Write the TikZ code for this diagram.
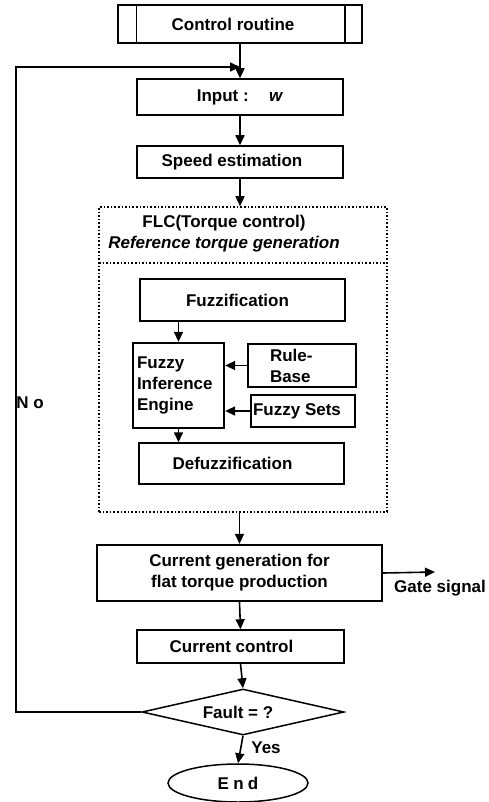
\documentclass[tikz,border=0pt]{standalone}
\usepackage{fontspec}
\setmainfont{Liberation Sans}
\usetikzlibrary{shapes.geometric,arrows.meta,calc}
\begin{document}
\begin{tikzpicture}[x=1pt,y=-1pt,
  every node/.style={font=\fontsize{17}{21}\selectfont\bfseries},
  box/.style={draw,line width=1.5pt,inner sep=2pt,align=center},
  thickbox/.style={box,line width=2.3pt},
  arr/.style={line width=1.6pt,-{Triangle[length=10pt,width=9pt]}},
  ln/.style={line width=1.5pt}]
\useasboundingbox (0,0) rectangle (489,802);
% nodes
\node[box,minimum width=244,minimum height=38] (cr) at (240,24) {Control routine\hspace*{14pt}};
\node[box,minimum width=206,minimum height=36] (in) at (240,97) {Input :\hspace{1.2em}\textit{w}};
\node[box,minimum width=206,minimum height=32] (sp) at (240,162) {Speed estimation\hspace*{16pt}};
\node[draw,dotted,line width=1.6pt,minimum width=288,minimum height=305,inner sep=0] (flc) at (243,359.5) {};
\node[align=center,inner sep=0] (flct) at (224,234) {FLC(Torque control)\\\textit{Reference torque generation}};
\node[box,minimum width=205,minimum height=42] (fz) at (242.5,300) {Fuzzification\hspace*{10pt}};
\node[thickbox,align=left,text width=83,inner sep=4pt,minimum height=85] (fie) at (178.5,385.5) {Fuzzy\\Inference\\Engine};
\node[thickbox,align=left,text width=64,inner xsep=22pt,inner ysep=2pt,minimum height=43] (rb) at (302,365.5) {Rule-\\Base};
\node[box,minimum width=104,minimum height=32] (fs) at (303,411) {Fuzzy Sets\hspace*{12pt}};
\node[box,minimum width=205,minimum height=41] (dfz) at (241.5,463.5) {Defuzzification\hspace*{18pt}};
\node[thickbox,minimum width=285,minimum height=56] (cg) at (239.5,573) {Current generation for\\flat torque production};
\node[box,minimum width=207,minimum height=33] (cc) at (240.5,646.5) {Current control\hspace*{18pt}};
\node[draw,diamond,line width=1.5pt,aspect=4.4,inner sep=1pt,minimum width=202,minimum height=46] (dia) at (243,712) {Fault = ?\hspace*{10pt}};
\node[draw,ellipse,line width=1.5pt,minimum width=140,minimum height=38,inner sep=0] (end) at (238,783) {\addfontfeatures{LetterSpace=25}End};
\node (no) at (30,403) {N o};
\node (yes) at (266,748) {Yes};
\node (gs) at (440,588) {Gate signal};
% inner lines of predefined process
\draw[ln] ([xshift=19pt]cr.north west) -- ([xshift=19pt]cr.south west);
\draw[ln] ([xshift=-18pt]cr.north east) -- ([xshift=-18pt]cr.south east);
% separator
\coordinate (s1) at (99,263);
\coordinate (s2) at (387,263);
\draw[dotted,line width=1.6pt] (s1) -- (s2);
% connectors
\draw[arr] (cr.south) -- (in.north);
\draw[arr] (in.south) -- (sp.north);
\draw[arr] (sp.south) -- (sp.south |- flc.north);
\draw[arr] (fie.north |- fz.south) -- (fie.north);
\draw[arr] (rb.west) -- (rb.west -| fie.east);
\draw[arr] (fs.west) -- (fs.west -| fie.east);
\draw[arr] (fie.south) -- (fie.south |- dfz.north);
\draw[arr] (cg.north |- flc.south) -- (cg.north);
\draw[arr] (cg.south) -- (cc.north);
\draw[arr] (cc.south) -- (dia.north);
\draw[arr] (dia.south) -- (end.north);
\coordinate (gse) at (435,572);
\draw[arr] (cg.east) -- (gse);
\coordinate (lc) at (16,67);
\coordinate (lm) at (240,67);
\draw[arr] (dia.west) -- (dia.west -| lc) -- (lc) -- (lm);
\end{tikzpicture}
\end{document}
